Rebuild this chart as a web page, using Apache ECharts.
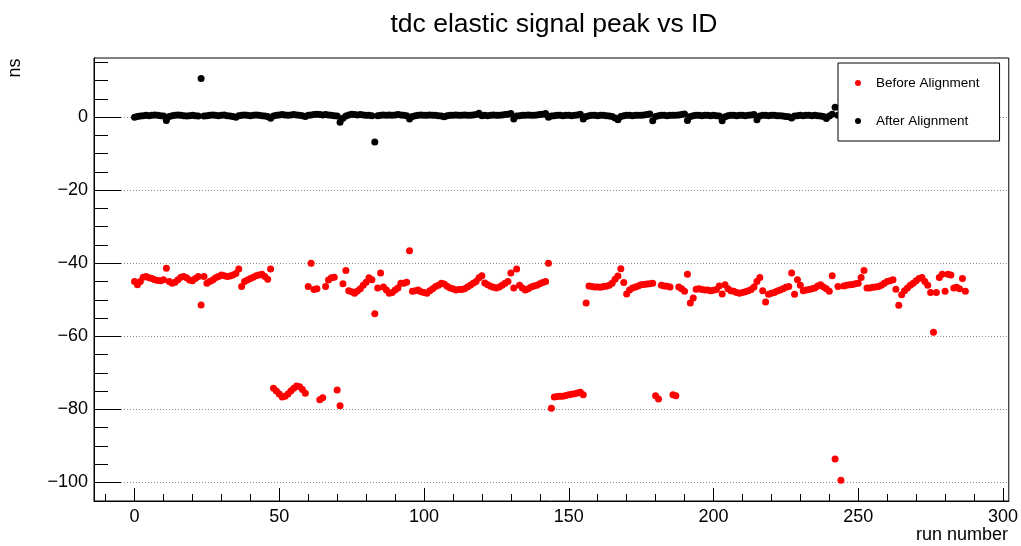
<!DOCTYPE html>
<html>
<head>
<meta charset="utf-8">
<script src="https://cdn.jsdelivr.net/npm/echarts@6/dist/echarts.min.js"></script>
<style>
html, body { margin: 0; padding: 0; background: #fff; }
#chart { width: 1021px; height: 546px; }
</style>
</head>
<body>
<div id="chart"></div>
<script>
// peak position per run (index = run number)
var beforeAlign = [
  -45.0, -45.9, -45.0, -43.8, -43.6, -44.0, -44.2, -44.5, -44.7, -44.8, -44.5, -41.4,
  -45.0, -45.5, -45.2, -44.5, -43.8, -43.6, -44.0, -44.6, -44.8, -44.2, -43.6, -51.4,
  -43.6, -45.5, -45.0, -44.6, -44.0, -43.6, -43.2, -43.4, -43.6, -43.5, -43.2, -42.8,
  -41.6, -46.4, -45.0, -44.6, -44.2, -43.8, -43.4, -43.2, -43.0, -43.6, -44.4, -41.6,
  -74.2, -75.0, -75.8, -76.6, -76.4, -75.8, -75.0, -74.2, -73.6, -73.8, -74.6, -75.6,
  -46.4, -40.0, -47.2, -47.0, -77.4, -76.8, -46.4, -44.6, -44.0, -43.8, -74.7, -79.0,
  -45.6, -42.0, -47.5, -47.8, -48.2, -47.6, -47.0, -46.0, -45.2, -44.0, -44.5, -53.8,
  -46.8, -42.7, -46.5, -47.3, -48.2, -48.0, -47.3, -46.8, -45.5, -45.5, -45.2, -36.6,
  -47.7, -47.5, -47.3, -47.8, -48.0, -48.2, -47.5, -47.0, -46.4, -46.0, -45.5, -45.7,
  -46.3, -46.8, -47.0, -47.3, -47.2, -47.2, -47.0, -46.5, -46.0, -45.5, -45.0, -44.0,
  -43.4, -45.4, -45.9, -46.3, -46.6, -46.8, -46.5, -46.0, -45.5, -45.0, -42.7, -46.8,
  -41.6, -46.0, -46.8, -47.3, -47.0, -46.5, -46.2, -46.0, -45.6, -45.3, -45.0, -40.0,
  -79.7, -76.6, -76.5, -76.4, -76.4, -76.2, -76.0, -75.9, -75.7, -75.5, -75.3, -76.0,
  -50.9, -46.2, -46.4, -46.5, -46.5, -46.6, -46.4, -46.3, -46.0, -45.5, -44.4, -43.5,
  -41.5, -45.3, -48.4, -47.3, -46.8, -46.5, -46.2, -45.9, -45.8, -45.7, -45.6, -45.5,
  -76.3, -77.2, -46.0, -46.2, -46.3, -46.5, -76.0, -76.3, -46.5, -47.0, -47.7, -43.0,
  -50.9, -49.5, -47.1, -47.0, -47.2, -47.3, -47.3, -47.5, -47.4, -47.2, -46.2, -48.4,
  -45.9, -47.0, -47.5, -47.7, -48.0, -48.2, -48.0, -47.8, -47.5, -47.2, -46.5, -45.0,
  -43.9, -47.5, -50.6, -48.5, -48.2, -48.0, -47.6, -47.3, -47.0, -46.6, -46.4, -42.7,
  -48.5, -44.5, -46.0, -47.5, -47.3, -47.2, -47.0, -46.8, -46.2, -45.9, -46.5, -47.0,
  -47.7, -43.4, -93.6, -46.4, -99.4, -46.2, -46.0, -45.9, -45.8, -45.6, -45.5, -43.9,
  -42.0, -46.8, -46.8, -46.6, -46.5, -46.4, -46.0, -45.5, -45.0, -44.8, -44.5, -47.1,
  -51.5, -48.6, -47.5, -46.8, -46.0, -45.5, -44.8, -44.2, -43.9, -45.0, -46.0, -48.0,
  -58.9, -48.0, -43.9, -43.0, -47.7, -43.0, -43.2, -46.8, -46.6, -47.0, -44.2, -47.7
];
var afterAlign = [
  0.0, 0.2, 0.3, 0.4, 0.5, 0.4, 0.5, 0.6, 0.5, 0.4, 0.3, -0.9,
  0.2, 0.4, 0.5, 0.6, 0.5, 0.4, 0.3, 0.4, 0.5, 0.4, 0.3, 10.6,
  0.3, 0.4, 0.5, 0.6, 0.5, 0.4, 0.5, 0.6, 0.4, 0.3, 0.2, 0.0,
  0.4, 0.5, 0.6, 0.5, 0.4, 0.5, 0.6, 0.5, 0.4, 0.3, 0.2, -0.3,
  0.3, 0.5, 0.6, 0.7, 0.6, 0.5, 0.6, 0.7, 0.6, 0.5, 0.4, 0.2,
  0.5, 0.6, 0.7, 0.8, 0.7, 0.6, 0.7, 0.6, 0.5, 0.4, 0.3, -1.4,
  -0.3, 0.3, 0.6, 0.8, 0.7, 0.6, 0.7, 0.6, 0.5, 0.5, 0.4, -6.8,
  0.4, 0.5, 0.6, 0.5, 0.6, 0.5, 0.6, 0.7, 0.6, 0.5, 0.4, -0.5,
  0.2, 0.4, 0.5, 0.6, 0.5, 0.5, 0.6, 0.5, 0.5, 0.4, 0.3, 0.1,
  0.4, 0.5, 0.5, 0.6, 0.5, 0.5, 0.6, 0.5, 0.5, 0.6, 0.7, 1.1,
  0.4, 0.5, 0.4, 0.5, 0.6, 0.5, 0.5, 0.6, 0.7, 0.8, 1.0, -0.5,
  0.3, 0.4, 0.5, 0.5, 0.6, 0.5, 0.5, 0.6, 0.7, 0.8, 1.0, 0.0,
  0.3, 0.4, 0.5, 0.5, 0.4, 0.5, 0.5, 0.4, 0.5, 0.6, 0.8, -0.5,
  0.2, 0.4, 0.5, 0.5, 0.4, 0.5, 0.5, 0.4, 0.3, 0.2, -0.2, -0.7,
  0.2, 0.4, 0.5, 0.5, 0.4, 0.5, 0.5, 0.5, 0.6, 0.7, 0.9, -1.0,
  0.2, 0.4, 0.5, 0.5, 0.4, 0.5, 0.5, 0.5, 0.6, 0.7, 0.9, -0.9,
  0.2, 0.4, 0.5, 0.5, 0.4, 0.5, 0.5, 0.4, 0.5, 0.4, 0.3, -1.0,
  0.1, 0.4, 0.5, 0.5, 0.4, 0.5, 0.5, 0.4, 0.5, 0.6, 0.7, -0.7,
  0.3, 0.5, 0.5, 0.4, 0.5, 0.5, 0.4, 0.4, 0.3, 0.2, 0.1, -0.2,
  0.3, 0.4, 0.5, 0.4, 0.5, 0.5, 0.4, 0.5, 0.4, 0.3, 0.2, -0.4,
  0.3, 0.8, 2.7, 0.5, 0.5, 0.4, 0.5, 0.5, 0.4, 0.5, 0.4, 0.3,
  0.4, 0.5, 0.5, 0.4, 0.5, 0.5, 0.4, 0.5, 0.6, 0.5, 0.4, 0.3,
  0.4, 0.5, 0.5, 0.4, 0.5, 0.5, 0.4, 0.5, 0.6, 0.5, 0.4, 0.3,
  0.4, 0.5, 0.5, 0.4, 0.5, 0.5, 0.4, 0.5, 0.6, 0.5, 0.4, 0.3
];

// tick positions
var xMajor = [0, 50, 100, 150, 200, 250, 300];
var xMinor = [-10, 10, 20, 30, 40, 60, 70, 80, 90, 110, 120, 130, 140, 160, 170, 180, 190,
              210, 220, 230, 240, 260, 270, 280, 290];
var yMajor = [-100, -80, -60, -40, -20, 0];
var yMinor = [-95, -90, -85, -75, -70, -65, -55, -50, -45, -35, -30, -25, -15, -10, -5, 5, 10, 15];

var FONT = 'Liberation Sans, Arial, Helvetica, sans-serif';

function toPairs(arr) {
    return arr.map(function (v, i) { return [i, v]; });
}

var chart = echarts.init(document.getElementById('chart'), null, { renderer: 'canvas' });

var option = {
    animation: false,
    backgroundColor: '#fff',
    title: {
        text: 'tdc elastic signal peak vs ID',
        left: 549,
        top: 6,
        textAlign: 'center',
        textStyle: { fontFamily: FONT, fontSize: 26.5, fontWeight: 'normal', color: '#000' }
    },
    legend: {
        orient: 'vertical',
        left: 838,
        top: 63,
        data: ['Before Alignment', 'After Alignment'],
        icon: 'circle',
        itemWidth: 26,
        itemHeight: 6,
        itemGap: 22,
        padding: [12, 20, 12, 17],
        backgroundColor: '#fff',
        borderColor: '#000',
        borderWidth: 1,
        borderRadius: 0,
        selectedMode: false,
        textStyle: { fontFamily: FONT, fontSize: 13.5, color: '#000', lineHeight: 16 }
    },
    grid: {
        left: 94, right: 12, top: 58, bottom: 45,
        show: true,
        borderColor: '#000',
        borderWidth: 1,
        backgroundColor: 'transparent'
    },
    xAxis: [{
        type: 'value',
        min: -14, max: 302,
        position: 'bottom',
        axisLine: { onZero: false, lineStyle: { color: '#000', width: 1 } },
        axisTick: { customValues: xMajor, inside: true, length: 13, lineStyle: { color: '#000' } },
        axisLabel: {
            customValues: xMajor, margin: 7,
            fontFamily: FONT, fontSize: 18, color: '#000'
        },
        splitLine: { show: false }
    }, {
        type: 'value',
        min: -14, max: 302,
        position: 'bottom',
        axisLine: { show: false, onZero: false },
        axisTick: { customValues: xMinor, inside: true, length: 7, lineStyle: { color: '#000' } },
        axisLabel: { show: false },
        splitLine: { show: false }
    }],
    yAxis: [{
        type: 'value',
        min: -105.1, max: 16.2,
        position: 'left',
        axisLine: { show: true, onZero: false, lineStyle: { color: '#000', width: 1 } },
        axisTick: { show: true, customValues: yMajor, inside: true, length: 27, lineStyle: { color: '#000' } },
        axisLabel: {
            customValues: yMajor, margin: 6,
            fontFamily: FONT, fontSize: 18, color: '#000',
            formatter: function (v) { return String(v).replace('-', '\u2212'); }
        },
        splitLine: { show: true, lineStyle: { color: '#888', width: 1, type: [1, 2] } }
    }, {
        type: 'value',
        min: -105.1, max: 16.2,
        position: 'left',
        axisLine: { show: false, onZero: false },
        axisTick: { show: true, customValues: yMinor, inside: true, length: 14, lineStyle: { color: '#000' } },
        axisLabel: { show: false },
        splitLine: { show: false }
    }],
    graphic: [{
        type: 'text',
        x: 15, y: 68,
        rotation: Math.PI / 2,
        style: { text: 'ns', font: '18px ' + FONT, fill: '#000', align: 'center', verticalAlign: 'middle' }
    }, {
        type: 'text',
        x: 1008, y: 535,
        style: { text: 'run number', font: '18px ' + FONT, fill: '#000', align: 'right', verticalAlign: 'middle' }
    }],
    series: [{
        name: 'Before Alignment',
        type: 'scatter',
        xAxisIndex: 0, yAxisIndex: 0,
        symbol: 'circle',
        symbolSize: 7,
        itemStyle: { color: '#ff0000', opacity: 1 },
        data: toPairs(beforeAlign)
    }, {
        name: 'After Alignment',
        type: 'scatter',
        xAxisIndex: 0, yAxisIndex: 0,
        symbol: 'circle',
        symbolSize: 7,
        itemStyle: { color: '#000000', opacity: 1 },
        data: toPairs(afterAlign)
    }]
};

chart.setOption(option);
</script>
</body>
</html>
